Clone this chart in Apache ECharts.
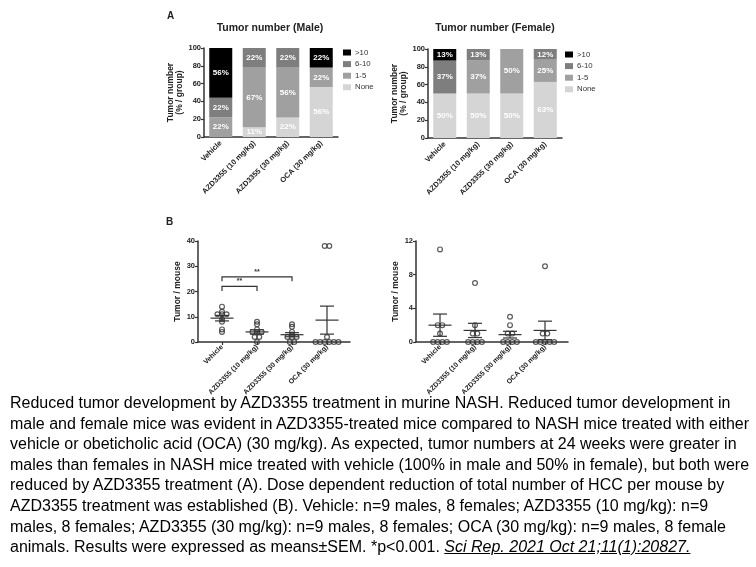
<!DOCTYPE html>
<html><head><meta charset="utf-8">
<script src="https://cdn.jsdelivr.net/npm/echarts@6/dist/echarts.min.js"></script>
<style>
html,body{margin:0;padding:0;background:#fff;}
#wrap{position:relative;width:756px;height:567px;overflow:hidden;background:#fff;}
#chart{position:absolute;left:0;top:0;width:756px;height:567px;}
#cap{position:absolute;left:10px;top:393px;font-family:'Liberation Sans',Arial,sans-serif;font-size:16px;line-height:20.6px;color:#000;white-space:nowrap;transform-origin:0 0;}
#cap i{text-decoration:underline;}
</style></head>
<body><div id="wrap"><div id="chart"></div>
<div id="cap">Reduced tumor development by AZD3355 treatment in murine NASH. Reduced tumor development in<br>male and female mice was evident in AZD3355-treated mice compared to NASH mice treated with either<br>vehicle or obeticholic acid (OCA) (30 mg/kg). As expected, tumor numbers at 24 weeks were greater in<br>males than females in NASH mice treated with vehicle (100% in male and 50% in female), but both were<br>reduced by AZD3355 treatment (A). Dose dependent reduction of total number of HCC per mouse by<br>AZD3355 treatment was established (B). Vehicle: n=9 males, 8 females; AZD3355 (10 mg/kg): n=9<br>males, 8 females; AZD3355 (30 mg/kg): n=9 males, 8 females; OCA (30 mg/kg): n=9 males, 8 female<br>animals. Results were expressed as means±SEM. *p&lt;0.001. <i>Sci Rep. 2021 Oct 21;11(1):20827.</i></div>
</div>
<script>
// ---------- DATA ----------
const categories = ['Vehicle', 'AZD3355 (10 mg/kg)', 'AZD3355 (30 mg/kg)', 'OCA (30 mg/kg)'];
const legendNames = ['>10', '6-10', '1-5', 'None'];
// Panel A, male (% / group)
const maleNone   = [0, 11, 22, 56];
const male1to5   = [22, 67, 56, 22];
const male6to10  = [22, 22, 22, 0];
const maleOver10 = [56, 0, 0, 22];
// Panel A, female (% / group)
const femaleNone   = [50, 50, 50, 63];
const female1to5   = [0, 37, 50, 25];
const female6to10  = [37, 13, 0, 12];
const femaleOver10 = [13, 0, 0, 0];
// Panel B, tumors per mouse
const maleVehicle = [14, 12, 11, 11, 11, 9, 8, 5, 4];
const maleAZD10   = [8, 7, 5, 4, 4, 4, 2, 2, 0];
const maleAZD30   = [7, 6, 4, 3, 2, 2, 2, 0, 0];
const maleOCA     = [38, 38, 2, 0, 0, 0, 0, 0, 0];
const femaleVehicle = [11, 2, 2, 1, 0, 0, 0, 0];
const femaleAZD10   = [7, 2, 1, 1, 0, 0, 0, 0];
const femaleAZD30   = [3, 2, 1, 1, 0, 0, 0, 0];
const femaleOCA     = [9, 1, 1, 0, 0, 0, 0, 0];
const maleTicks = [0, 10, 20, 30, 40];
const femaleTicks = [0, 4, 8, 12];
const significance = [
  { from: 0, to: 1, y: 22, label: '**' },
  { from: 0, to: 2, y: 25.8, label: '**' }
];

// ---------- STYLE ----------
const FONT = "'Liberation Sans', Arial, sans-serif";
const AX = '#333';
const colors = { '>10': '#000000', '6-10': '#7e7e7e', '1-5': '#a0a0a0', 'None': '#d5d5d5' };

const chart = echarts.init(document.getElementById('chart'), null, { renderer: 'canvas' });

function mean(a) { return a.reduce((s, v) => s + v, 0) / a.length; }
function sem(a) {
  const m = mean(a);
  const v = a.reduce((s, x) => s + (x - m) * (x - m), 0) / (a.length - 1);
  return Math.sqrt(v) / Math.sqrt(a.length);
}
// Beeswarm-like horizontal layout (pixels) for equal values
function swarmOffsets(values, d) {
  const groups = {};
  values.forEach((v, i) => { (groups[v] = groups[v] || []).push(i); });
  const off = new Array(values.length).fill(0);
  Object.keys(groups).forEach(k => {
    const g = groups[k];
    g.forEach((idx, j) => { off[idx] = (j - (g.length - 1) / 2) * d; });
  });
  return off;
}

const axisLabelStyle = { fontSize: 7.5, fontWeight: 'bold', color: '#222', fontFamily: FONT };

function barX(i) {
  return {
    type: 'category', gridIndex: i, data: categories, boundaryGap: true,
    axisLine: { lineStyle: { color: AX, width: 1.5 } },
    axisTick: { alignWithLabel: true, length: 3, lineStyle: { color: AX, width: 1.2 } },
    axisLabel: Object.assign({}, axisLabelStyle, { rotate: 45, margin: 5, interval: 0 })
  };
}
function valY(i, max, interval, name, gap) {
  return {
    type: 'value', gridIndex: i, min: 0, max: max, interval: interval,
    name: name, nameLocation: 'middle', nameRotate: 90, nameGap: gap,
    nameTextStyle: { fontSize: 8.5, fontWeight: 'bold', color: '#222', lineHeight: 9.5, fontFamily: FONT },
    axisLine: { show: true, onZero: false, lineStyle: { color: AX, width: 1.5 } },
    axisTick: { show: true, length: 3, lineStyle: { color: AX, width: 1.2 } },
    splitLine: { show: false },
    axisLabel: Object.assign({ margin: 3 }, axisLabelStyle)
  };
}
function scatterX(i) {
  return {
    type: 'value', gridIndex: i, min: -0.686, max: 3.657,
    splitLine: { show: false },
    axisLine: { onZero: false, lineStyle: { color: AX, width: 1.5 } },
    axisTick: { show: true, customValues: [0, 1, 2, 3], length: 3, lineStyle: { color: AX, width: 1.2 } },
    axisLabel: Object.assign({}, axisLabelStyle, { fontSize: 7, customValues: [0, 1, 2, 3], rotate: 45, margin: 4,
      formatter: v => categories[Math.round(v)] || '' })
  };
}

function barSeries(name, data, gi) {
  return {
    type: 'bar', name: name, xAxisIndex: gi, yAxisIndex: gi, stack: 'st' + gi,
    data: data, barWidth: 23, itemStyle: { color: colors[name] },
    label: { show: true, position: 'inside', color: '#fff', fontSize: 8, fontWeight: 'bold', fontFamily: FONT,
      formatter: p => p.value ? p.value + '%' : '' },
    emphasis: { disabled: true }
  };
}

function scatterSeries(groups, gi) {
  const data = [];
  groups.forEach((arr, g) => {
    const off = swarmOffsets(arr, 4.6);
    arr.forEach((v, j) => data.push({ value: [g, v], symbolOffset: [off[j], 0] }));
  });
  return {
    type: 'scatter', xAxisIndex: gi, yAxisIndex: gi, data: data, symbol: 'circle', symbolSize: 4.8,
    itemStyle: { color: 'rgba(0,0,0,0)', borderColor: '#333', borderWidth: 1.2 },
    emphasis: { disabled: true }, silent: true, z: 3
  };
}
function meanSemSeries(groups, gi) {
  return {
    type: 'custom', xAxisIndex: gi, yAxisIndex: gi, silent: true, z: 4,
    data: groups.map((a, g) => [g, mean(a), sem(a)]),
    encode: { x: 0, y: 1 },
    renderItem: (params, api) => {
      const x = api.value(0), m = api.value(1), s = api.value(2);
      const pm = api.coord([x, m]), pt = api.coord([x, m + s]), pb = api.coord([x, Math.max(0, m - s)]);
      const st = { stroke: '#333', lineWidth: 1.2 };
      return { type: 'group', children: [
        { type: 'line', shape: { x1: pm[0] - 11.5, y1: pm[1], x2: pm[0] + 11.5, y2: pm[1] }, style: st },
        { type: 'line', shape: { x1: pt[0], y1: pt[1], x2: pb[0], y2: pb[1] }, style: st },
        { type: 'line', shape: { x1: pt[0] - 7, y1: pt[1], x2: pt[0] + 7, y2: pt[1] }, style: st },
        { type: 'line', shape: { x1: pb[0] - 7, y1: pb[1], x2: pb[0] + 7, y2: pb[1] }, style: st }
      ] };
    }
  };
}
function bracketSeries(gi) {
  return {
    type: 'custom', xAxisIndex: gi, yAxisIndex: gi, silent: true, z: 4,
    data: significance.map(b => [b.from, b.to, b.y]),
    encode: { x: [0, 1], y: 2 },
    renderItem: (params, api) => {
      const a = api.coord([api.value(0), api.value(2)]);
      const b = api.coord([api.value(1), api.value(2)]);
      const drop = 4.5;
      const lbl = significance[params.dataIndex].label;
      return { type: 'group', children: [
        { type: 'polyline', shape: { points: [[a[0], a[1] + drop], a, b, [b[0], b[1] + drop]] },
          style: { stroke: '#333', lineWidth: 1.2, fill: null } },
        { type: 'text', style: { text: lbl, x: (a[0] + b[0]) / 2, y: a[1] - 1.5, textAlign: 'center',
          textVerticalAlign: 'bottom', font: 'bold 7px ' + FONT, fill: '#333' } }
      ] };
    }
  };
}

const maleGroups = [maleVehicle, maleAZD10, maleAZD30, maleOCA];
const femaleGroups = [femaleVehicle, femaleAZD10, femaleAZD30, femaleOCA];

function legend(left, top) {
  return {
    data: legendNames, orient: 'vertical', left: left, top: top, itemWidth: 8, itemHeight: 6,
    itemGap: 3.6, icon: 'rect', selectedMode: false, padding: 0,
    textStyle: { fontSize: 7.8, color: '#333', fontFamily: FONT, padding: [0, 0, 0, -1] }
  };
}

const option = {
  animation: false,
  backgroundColor: '#fff',
  textStyle: { fontFamily: FONT },
  grid: [
    { left: 204, top: 48, width: 134, height: 89 },
    { left: 428, top: 49, width: 134, height: 89 },
    { left: 198, top: 241, width: 152, height: 101 },
    { left: 416, top: 241, width: 152, height: 101 }
  ],
  legend: [legend(343, 48.5), legend(565, 50.5)],
  xAxis: [barX(0), barX(1), scatterX(2), scatterX(3)],
  yAxis: [
    valY(0, 100, 20, 'Tumor number\n(% / group)', 6),
    valY(1, 100, 20, 'Tumor number\n(% / group)', 6),
    valY(2, maleTicks[maleTicks.length - 1], maleTicks[1] - maleTicks[0], 'Tumor / mouse', 11),
    valY(3, femaleTicks[femaleTicks.length - 1], femaleTicks[1] - femaleTicks[0], 'Tumor / mouse', 9)
  ],
  graphic: [
    { type: 'text', left: 167, top: 11, style: { text: 'A', font: 'bold 10px ' + FONT, fill: '#222' } },
    { type: 'text', left: 166, top: 217, style: { text: 'B', font: 'bold 10px ' + FONT, fill: '#222' } },
    { type: 'text', x: 270, y: 28, style: { text: 'Tumor number (Male)', textAlign: 'center', textVerticalAlign: 'middle', font: 'bold 10.5px ' + FONT, fill: '#222' } },
    { type: 'text', x: 495, y: 28, style: { text: 'Tumor number (Female)', textAlign: 'center', textVerticalAlign: 'middle', font: 'bold 10.5px ' + FONT, fill: '#222' } }
  ],
  series: [
    barSeries('None', maleNone, 0), barSeries('1-5', male1to5, 0), barSeries('6-10', male6to10, 0), barSeries('>10', maleOver10, 0),
    barSeries('None', femaleNone, 1), barSeries('1-5', female1to5, 1), barSeries('6-10', female6to10, 1), barSeries('>10', femaleOver10, 1),
    scatterSeries(maleGroups, 2), meanSemSeries(maleGroups, 2), bracketSeries(2),
    scatterSeries(femaleGroups, 3), meanSemSeries(femaleGroups, 3)
  ]
};
chart.setOption(option);
</script>
</body></html>
